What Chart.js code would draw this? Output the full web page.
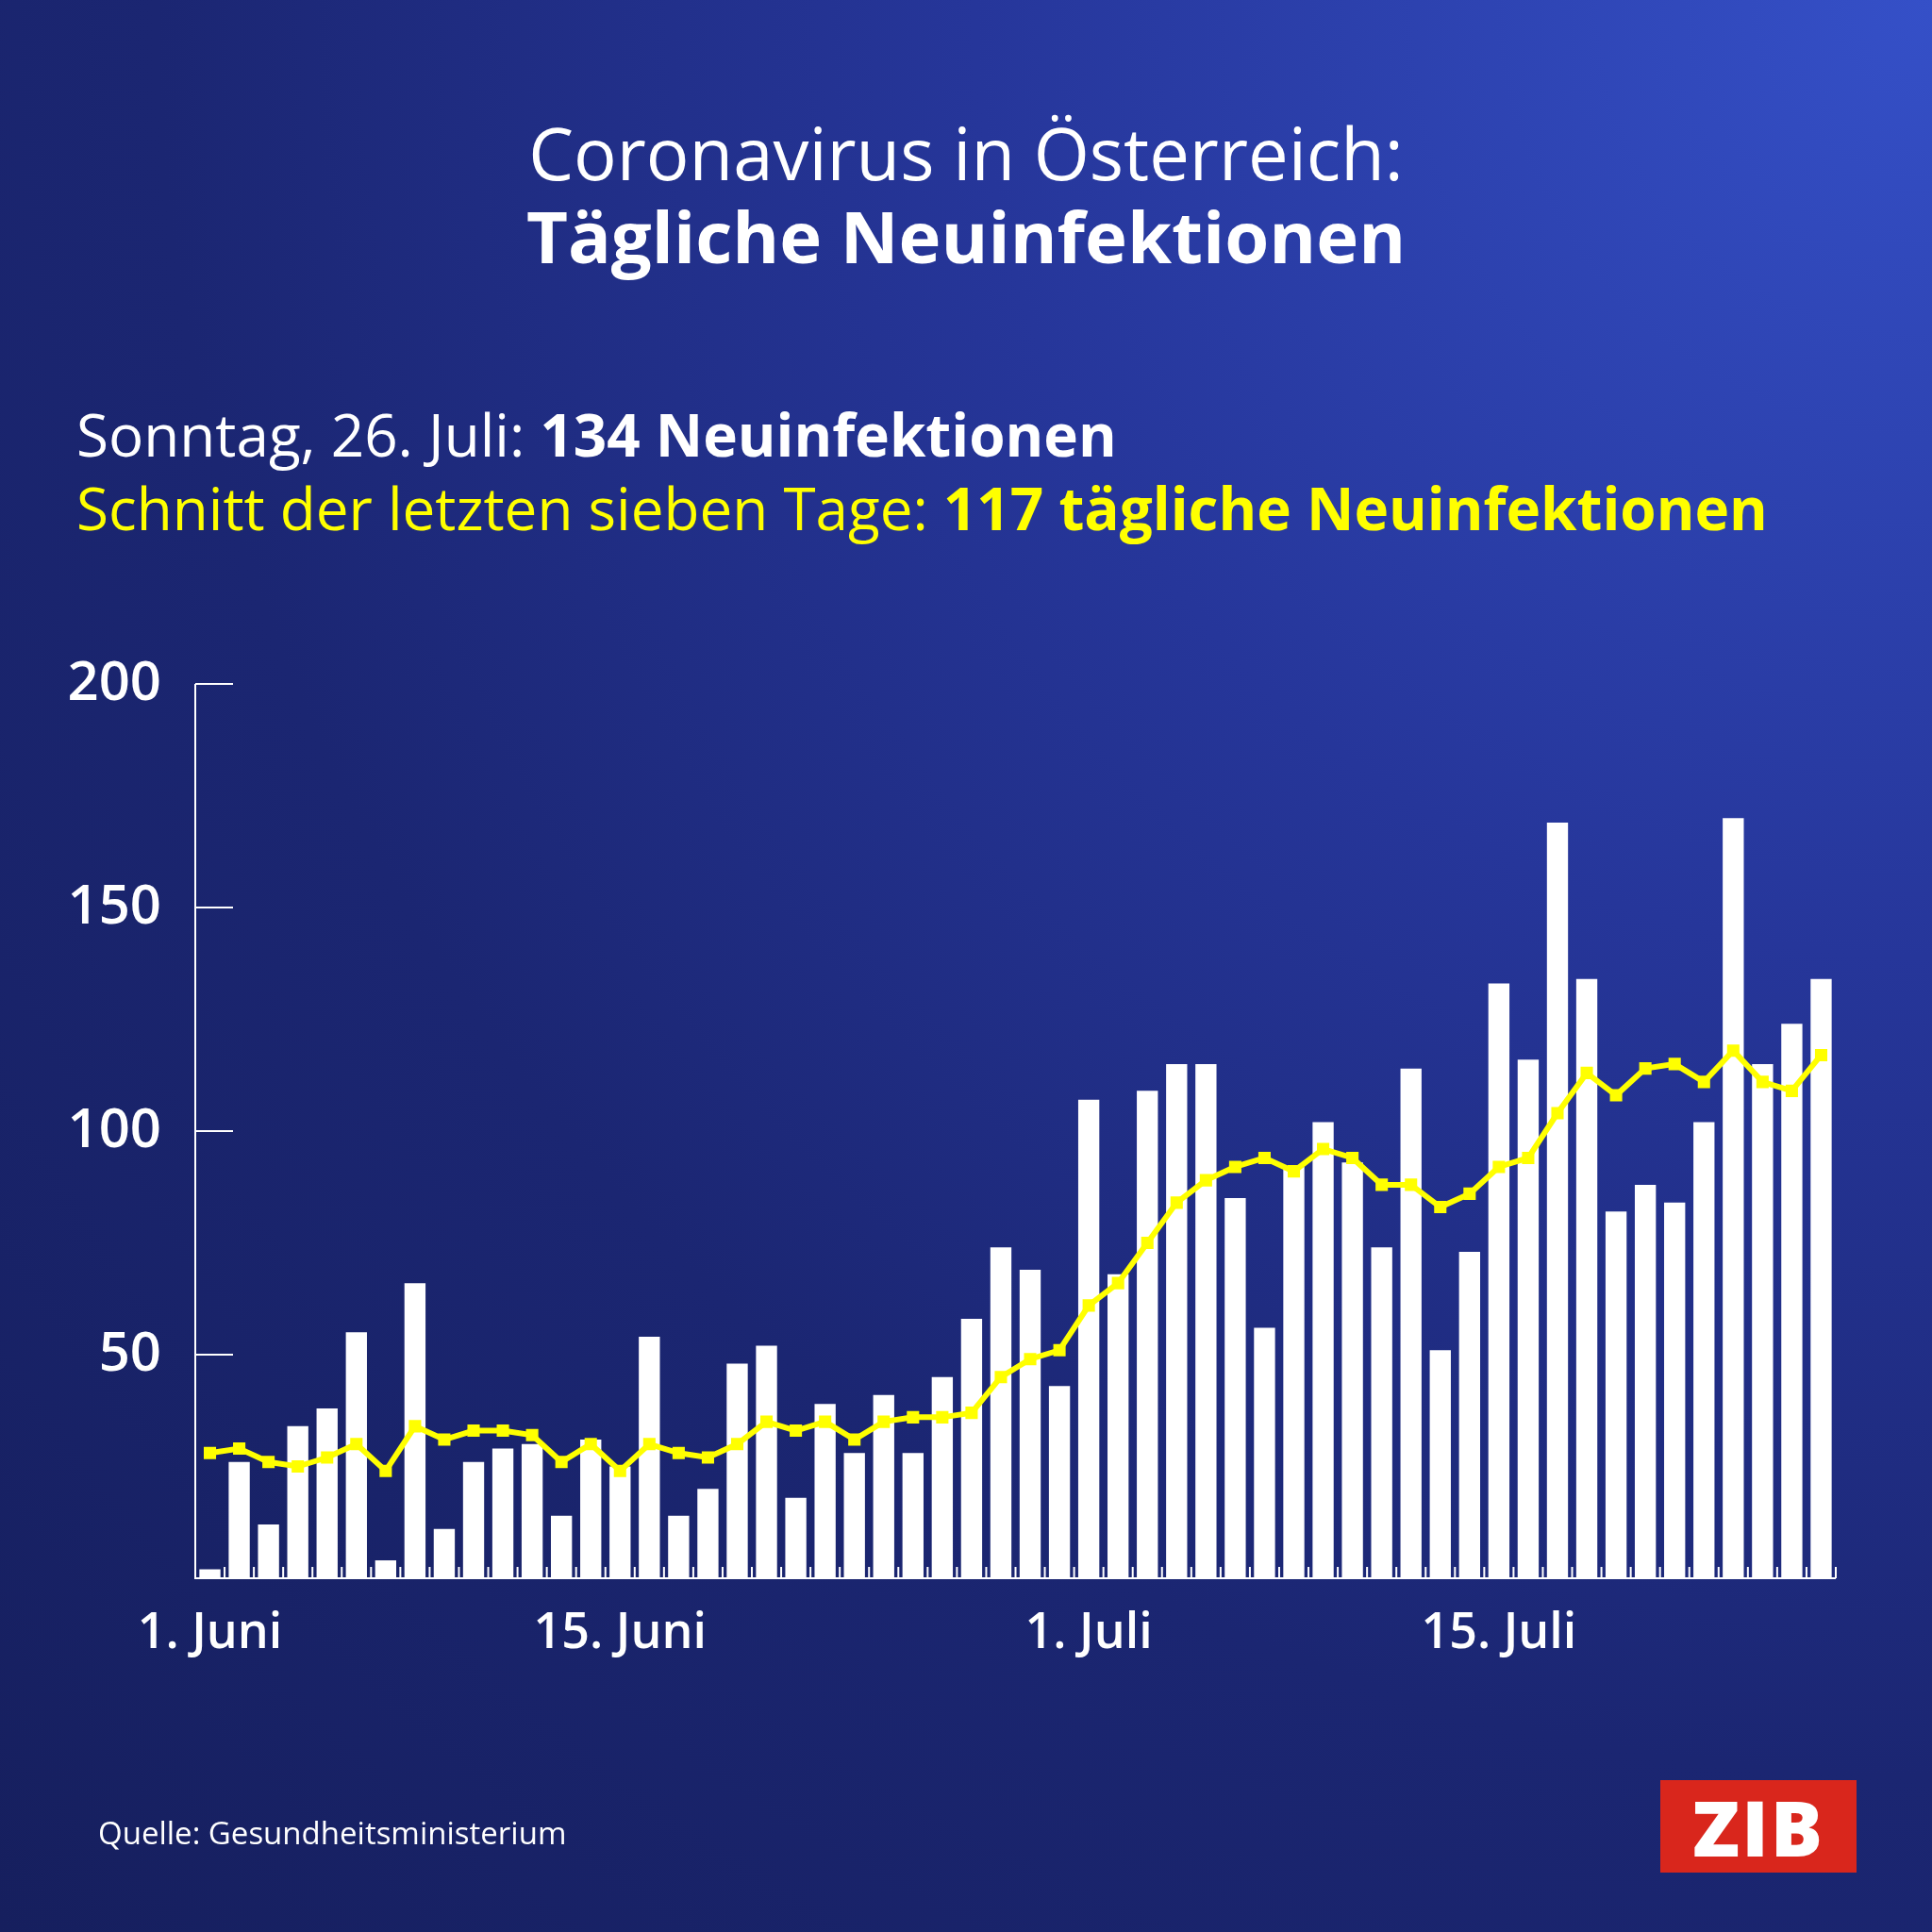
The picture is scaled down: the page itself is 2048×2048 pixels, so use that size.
<!DOCTYPE html>
<html><head><meta charset="utf-8">
<script src="https://cdn.jsdelivr.net/npm/chart.js@4/dist/chart.umd.min.js"></script>
<style>
html,body{margin:0;padding:0}
body{width:2048px;height:2048px;position:relative;overflow:hidden;font-family:"Open Sans",sans-serif;color:#fff;
background:radial-gradient(ellipse at 100% 0%, #3550c8 0%, #26369a 35%, #1b2672 65%, #161f5e 100%);}
canvas{position:absolute;left:0;top:0}
.t{position:absolute;white-space:nowrap}
#logo{position:absolute;left:1760px;top:1887px;width:208px;height:98px;background:#d9261c;color:#fff;font:800 82px "Open Sans";text-align:center;line-height:98px;letter-spacing:2px}
</style></head><body>
<canvas id="c" width="2048" height="2048"></canvas>
<div class="t" style="left:0;width:2048px;text-align:center;top:110px;font-size:76px;font-weight:400">Coronavirus in Österreich:</div>
<div class="t" style="left:0;width:2048px;text-align:center;top:198px;font-size:76px;font-weight:700">Tägliche Neuinfektionen</div>
<div class="t" style="left:81px;top:418px;font-size:62px">Sonntag, 26. Juli: <b>134 Neuinfektionen</b></div>
<div class="t" style="left:81px;top:496px;font-size:62px;color:#ffff00">Schnitt der letzten sieben Tage: <b>117 tägliche Neuinfektionen</b></div>
<div class="t" style="left:104px;top:1920px;font-size:33px">Quelle: Gesundheitsministerium</div>
<div id="logo">ZIB</div>
<script>
const days = Array.from({length: 56}, (_, i) => i < 30 ? (i + 1) + '. Juni' : (i - 29) + '. Juli');
const shownLabels = ['1. Juni', '15. Juni', '1. Juli', '15. Juli'];
const newCases = [2,26,12,34,38,55,4,66,11,26,29,30,14,31,25,54,14,20,48,52,18,39,28,41,28,45,58,74,69,43,
  107,68,109,115,115,85,56,92,102,93,74,114,51,73,133,116,169,134,82,88,84,102,170,115,124,134];
const avg7 = [28,29,26,25,27,30,24,34,31,33,33,32,26,30,24,30,28,27,30,35,33,35,31,35,36,36,37,45,49,51,
  61,66,75,84,89,92,94,91,96,94,88,88,83,86,92,94,104,113,108,114,115,111,118,111,109,117];
const yTicks = [50, 100, 150, 200];

const customTicks = {
  id: 'customTicks',
  afterDraw(chart) {
    const ctx = chart.ctx, x = chart.scales.x, y = chart.scales.y;
    const a = chart.chartArea;
    ctx.save();
    ctx.strokeStyle = '#fff';
    ctx.lineWidth = 2;
    ctx.beginPath();
    ctx.moveTo(a.left, a.top); ctx.lineTo(a.left, a.bottom); ctx.lineTo(a.right, a.bottom);
    yTicks.forEach(v => { const py = y.getPixelForValue(v); ctx.moveTo(a.left, py); ctx.lineTo(a.left + 40, py); });
    for (let i = 0; i <= days.length; i++) {
      const px = x.getPixelForValue(i) - (x.getPixelForValue(1) - x.getPixelForValue(0)) / 2;
      ctx.moveTo(px, a.bottom); ctx.lineTo(px, a.bottom - 12);
    }
    ctx.stroke();
    ctx.restore();
  }
};

new Chart(document.getElementById('c'), {
  data: {
    labels: days,
    datasets: [
      { type: 'line', data: avg7, borderColor: '#ffff00', backgroundColor: '#ffff00', borderWidth: 6,
        pointStyle: 'rect', pointRadius: 5, tension: 0, order: 0 },
      { type: 'bar', data: newCases, backgroundColor: '#ffffff', barPercentage: 0.72, categoryPercentage: 1, order: 1 }
    ]
  },
  options: {
    responsive: false, animation: false,
    layout: { padding: { top: 725, bottom: 275, right: 102, left: 0 } },
    plugins: { legend: { display: false }, tooltip: { enabled: false } },
    scales: {
      x: {
        grid: { display: false }, border: { display: false },
        afterFit: s => { s.height = 100; },
        ticks: { color: '#fff', autoSkip: false, maxRotation: 0, padding: 20,
          font: { family: 'Open Sans', size: 52, weight: '600' },
          callback: (v, i) => shownLabels.includes(days[i]) ? days[i] : '' }
      },
      y: {
        min: 0, max: 200, grid: { display: false }, border: { display: false },
        afterFit: s => { s.width = 207; },
        ticks: { stepSize: 50, color: '#fff', padding: 28,
          font: { family: 'Open Sans', size: 58, weight: '600' },
          callback: v => v === 0 ? '' : v }
      }
    }
  },
  plugins: [customTicks]
});
</script>
</body></html>
